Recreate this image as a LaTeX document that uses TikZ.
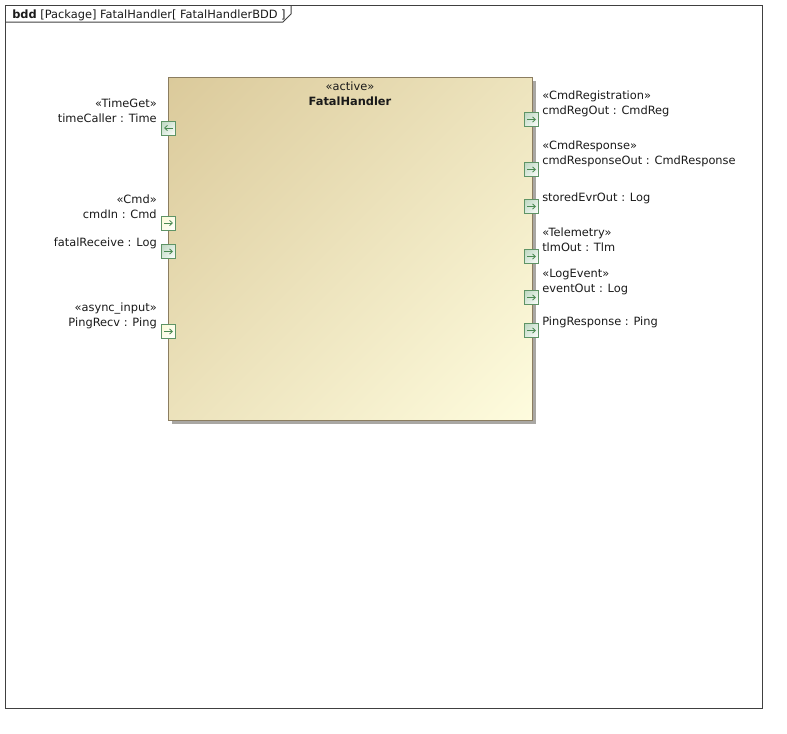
\documentclass[tikz,border=0pt]{standalone}
\usepackage{fontspec}
\setmainfont{DejaVu Sans}
\usetikzlibrary{shadows,arrows.meta}
\definecolor{framec}{HTML}{404040}
\definecolor{blocktl}{HTML}{DBCA9B}
\definecolor{blockbr}{HTML}{FEFCDE}
\definecolor{blockbd}{HTML}{8B7D60}
\definecolor{shadowc}{HTML}{A9A7A3}
\definecolor{portbd}{HTML}{5F9466}
\definecolor{portg}{HTML}{BCD7C0}
\definecolor{porty}{HTML}{FAFAD6}
\definecolor{arrowc}{HTML}{4A8A52}
\definecolor{txtc}{HTML}{1A1A1A}
\pgfdeclareverticalshading{blockgrad}{100bp}{color(0bp)=(blockbr); color(14.6bp)=(blockbr); color(85.4bp)=(blocktl); color(100bp)=(blocktl)}
\pgfdeclareverticalshading{portgrad}{100bp}{color(0bp)=(white); color(14.6bp)=(white); color(85.4bp)=(portg); color(100bp)=(portg)}
\pgfdeclareverticalshading{portygrad}{100bp}{color(0bp)=(white); color(14.6bp)=(white); color(85.4bp)=(porty); color(100bp)=(porty)}
\begin{document}
\begin{tikzpicture}[x=0.75pt,y=-0.75pt,
  every node/.style={font=\fontsize{8.55}{10}\selectfont, text=txtc},
  lblR/.style={inner sep=0, anchor=base west},
  lblL/.style={inner sep=0, anchor=base east},
  portbox/.style={draw=portbd, line width=0.75pt, minimum size=10.5pt, inner sep=0,
    shading=portgrad, shading angle=45},
  portboxy/.style={portbox, shading=portygrad, shading angle=45},
  parr/.style={-{Straight Barb[length=2.2pt,width=4pt]}, draw=arrowc, line width=0.6pt},
  framestyle/.style={draw=framec, line width=0.75pt}
]
\useasboundingbox (0,0) rectangle (787,733);
% frame
\draw[framestyle] (5,5) rectangle (762,708);
\draw[framestyle] (5,22) -- (283,22) -- (291,14) -- (291,5);
\node[lblR] (hdr) at (12,18) {{\bfseries bdd} [Package] FatalHandler[ FatalHandlerBDD ]};
% block
\node[draw=blockbd, line width=0.75pt, anchor=north west, inner sep=0,
  minimum width=273pt, minimum height=257.25pt,
  shading=blockgrad, shading angle=45,
  drop shadow={shadow xshift=2.25pt, shadow yshift=-2.25pt, fill=shadowc, opacity=1}]
  (block) at (168,77) {};
\node[inner sep=0, anchor=base] (stact) at (350,90) {«active»};
\node[inner sep=0, anchor=base] (title) at (350,105) {\bfseries FatalHandler};
% left ports
\node[portbox] (pTime) at (168.5,128) {};
\node[portboxy] (pCmd) at (168.5,223) {};
\node[portbox] (pFatal) at (168.5,251.5) {};
\node[portboxy] (pPing) at (168.5,331.5) {};
\draw[parr] (pTime.center) ++(4.5,0) -- ++(-9,0);
\draw[parr] (pCmd.center) ++(-4.5,0) -- ++(9,0);
\draw[parr] (pFatal.center) ++(-4.5,0) -- ++(9,0);
\draw[parr] (pPing.center) ++(-4.5,0) -- ++(9,0);
% right ports
\node[portbox] (pReg) at (531.5,119.5) {};
\node[portbox] (pResp) at (531.5,169.5) {};
\node[portbox] (pEvr) at (531.5,206.5) {};
\node[portbox] (pTlm) at (531.5,256.5) {};
\node[portbox] (pEvt) at (531.5,297.5) {};
\node[portbox] (pPingR) at (531.5,330.5) {};
\foreach \p in {pReg,pResp,pEvr,pTlm,pEvt,pPingR}
  \draw[parr] (\p.center) ++(-4.5,0) -- ++(9,0);
% left labels
\node[lblL] (lTimeS) at (157,107) {«TimeGet»};
\node[lblL] (lTime) at (157,122) {timeCaller : Time};
\node[lblL] (lCmdS) at (157,203) {«Cmd»};
\node[lblL] (lCmd) at (157,218) {cmdIn : Cmd};
\node[lblL] (lFatal) at (157,246) {fatalReceive : Log};
\node[lblL] (lPingS) at (157,311) {«async\_input»};
\node[lblL] (lPing) at (157,326) {PingRecv : Ping};
% right labels
\node[lblR] (lRegS) at (542,99) {«CmdRegistration»};
\node[lblR] (lReg) at (542,114) {cmdRegOut : CmdReg};
\node[lblR] (lRespS) at (542,149) {«CmdResponse»};
\node[lblR] (lResp) at (542,164) {cmdResponseOut : CmdResponse};
\node[lblR] (lEvr) at (542,201) {storedEvrOut : Log};
\node[lblR] (lTlmS) at (542,236) {«Telemetry»};
\node[lblR] (lTlm) at (542,251) {tlmOut : Tlm};
\node[lblR] (lEvtS) at (542,277) {«LogEvent»};
\node[lblR] (lEvt) at (542,292) {eventOut : Log};
\node[lblR] (lPingR) at (542,325) {PingResponse : Ping};
\end{tikzpicture}
\end{document}
